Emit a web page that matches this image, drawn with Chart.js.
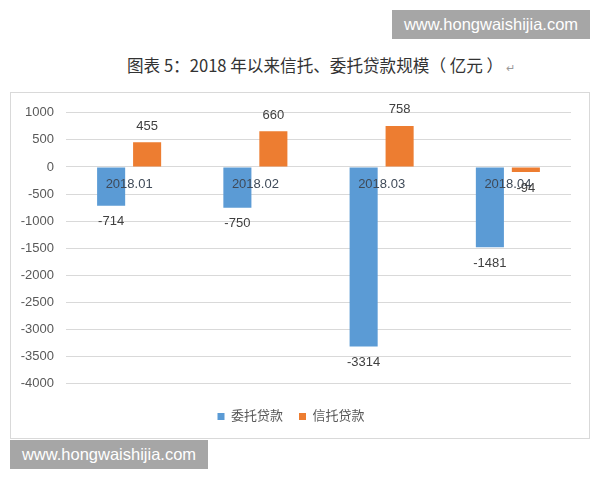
<!DOCTYPE html>
<html>
<head>
<meta charset="utf-8">
<script src="https://cdn.jsdelivr.net/npm/chart.js@4.4.1/dist/chart.umd.min.js"></script>
<style>
  html, body { margin: 0; padding: 0; background: #fff; }
  body { width: 600px; height: 480px; position: relative; overflow: hidden; font-family: "Liberation Sans", "Noto Sans CJK SC", sans-serif; }
  .wm { position: absolute; background: #a6a6a6; color: #fff; font-size: 16.5px; height: 29px; line-height: 29px; text-align: center; }
  #wmTop { left: 392px; top: 10px; width: 198px; }
  #wmBottom { left: 10px; top: 440px; width: 198px; }
  #title { position: absolute; left: 127px; top: 53px; white-space: nowrap; font-size: 16.6px; color: #333; font-family: "Noto Sans CJK SC", sans-serif; }
  #title .ret { color: #999; font-size: 11px; margin-left: 3px; }
  #box { position: absolute; left: 10px; top: 92px; width: 578px; height: 345px; border: 1px solid #d9d9d9; }
</style>
</head>
<body>
<div class="wm" id="wmTop">www.hongwaishijia.com</div>
<div id="title">图表 5：2018 年以来信托、委托贷款规模（ 亿元 ）<span class="ret">↵</span></div>
<div id="box"><canvas id="graphique"></canvas></div>
<div class="wm" id="wmBottom">www.hongwaishijia.com</div>
<script>
// données
const categories = ['2018.01', '2018.02', '2018.03', '2018.04'];
const weituo = [-714, -750, -3314, -1481];   // 委托贷款
const xintuo = [455, 660, 758, -94];         // 信托贷款
const yTicks = { min: -4000, max: 1000, step: 500 };

const fontFam = '"Liberation Sans", "Noto Sans CJK SC", sans-serif';

// étiquettes de valeur + catégories (par-dessus les barres)
const valueLabels = {
  id: 'valueLabels',
  afterDatasetsDraw(chart) {
    const c = chart.ctx;
    const xs = chart.scales.x, ys = chart.scales.y;
    c.save();
    c.font = '13px ' + fontFam;
    c.textAlign = 'center';
    c.textBaseline = 'middle';
    // noms de catégorie juste sous la ligne du zéro
    c.fillStyle = '#3f4a58';
    const y0 = ys.getPixelForValue(0);
    chart.data.labels.forEach((lab, j) => {
      c.fillText(lab, xs.getPixelForValue(j), y0 + 17);
    });
    c.fillStyle = '#404040';
    chart.data.datasets.forEach((ds, i) => {
      chart.getDatasetMeta(i).data.forEach((bar, j) => {
        const v = ds.data[j];
        const y = v >= 0 ? bar.y - 16 : bar.y + 16;
        c.fillText(String(v), bar.x, y);
      });
    });
    c.restore();
  }
};

new Chart(document.getElementById('graphique'), {
  type: 'bar',
  data: {
    labels: categories,
    datasets: [
      { label: '委托贷款', data: weituo, backgroundColor: '#5B9BD5' },
      { label: '信托贷款', data: xintuo, backgroundColor: '#ED7D31' }
    ]
  },
  options: {
    responsive: true,
    maintainAspectRatio: false,
    animation: false,
    categoryPercentage: 0.57,
    barPercentage: 0.78,
    layout: { padding: { top: 14, right: 18, left: 0, bottom: 5 } },
    plugins: {
      tooltip: { enabled: false },
      legend: {
        position: 'bottom',
        // titre vide = espace au-dessus des items
        title: { display: true, text: '', font: { size: 1 }, padding: { top: 9, bottom: 0 } },
        labels: {
          boxWidth: 7, boxHeight: 7, padding: 16,
          color: '#595959',
          font: { size: 13, family: fontFam }
        }
      }
    },
    scales: {
      x: {
        position: { y: 0 },
        grid: { display: false, drawTicks: false },
        border: { display: false },
        ticks: { display: false }
      },
      y: {
        min: yTicks.min,
        max: yTicks.max,
        afterFit: s => { s.width = 55; },
        grid: { color: '#d9d9d9', drawTicks: false },
        border: { display: false },
        ticks: {
          stepSize: yTicks.step, color: '#595959', padding: 12,
          font: { size: 13, family: fontFam },
          callback: v => String(v)
        }
      }
    }
  },
  plugins: [valueLabels]
});
</script>
</body>
</html>
